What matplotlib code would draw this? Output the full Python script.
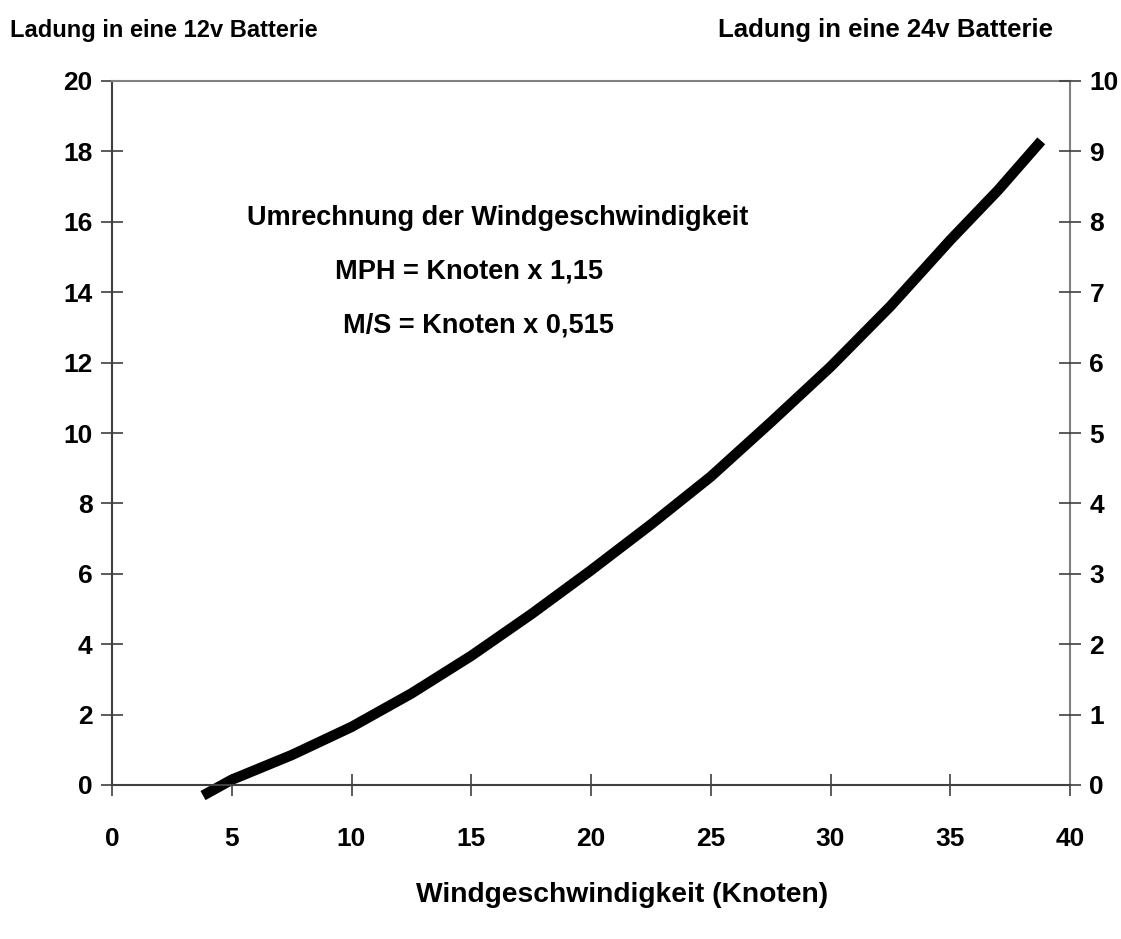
import matplotlib.pyplot as plt

# Readings from the chart: knots vs charge (12v scale)
knots = [3.8, 5, 7.5, 10, 12.5, 15, 17.5, 20, 22.5, 25, 27.5, 30, 32.5, 35, 37, 38.8]
charge_12v = [-0.3, 0.15, 0.85, 1.65, 2.6, 3.67, 4.85, 6.1, 7.4, 8.76, 10.3, 11.88, 13.6, 15.48, 16.9, 18.3]

x_ticks = [0, 5, 10, 15, 20, 25, 30, 35, 40]
left_ticks = [0, 2, 4, 6, 8, 10, 12, 14, 16, 18, 20]
right_ticks = [0, 1, 2, 3, 4, 5, 6, 7, 8, 9, 10]

plt.rcParams['font.family'] = ['Liberation Sans', 'DejaVu Sans']
plt.rcParams['font.weight'] = 'bold'

fig = plt.figure(figsize=(11.21, 9.39), dpi=100)
ax = fig.add_axes([112 / 1121, 1 - 785 / 939, (1070 - 112) / 1121, (785 - 81) / 939])

ax.plot(knots, charge_12v, color='black', lw=7.5, solid_capstyle='butt',
        solid_joinstyle='round', clip_on=False)

ax.set_xlim(0, 40)
ax.set_ylim(0, 20)
ax.set_xticks(x_ticks)
ax.set_yticks(left_ticks)
ax.tick_params(direction='inout', length=16, width=1.2, color='#404040',
               labelsize=19, pad=6)
ax.tick_params(axis='x', pad=22)
for side in ['left', 'bottom']:
    ax.spines[side].set_color('#404040')
    ax.spines[side].set_linewidth(1.5)
for side in ['top', 'right']:
    ax.spines[side].set_color('#808080')
    ax.spines[side].set_linewidth(1.5)

ax2 = ax.twinx()
ax2.set_ylim(0, 10)
ax2.set_yticks(right_ticks)
ax2.tick_params(direction='inout', length=16, width=1.2, color='#404040',
                labelsize=19, pad=6)
for s in ax2.spines.values():
    s.set_visible(False)

ax.text(16.1, 16.1, 'Umrechnung der Windgeschwindigkeit', fontsize=19.5,
        fontweight='bold', ha='center', va='center')
ax.text(14.9, 14.6, 'MPH = Knoten x 1,15', fontsize=19.5,
        fontweight='bold', ha='center', va='center')
ax.text(15.3, 13.04, 'M/S = Knoten x 0,515', fontsize=19.5,
        fontweight='bold', ha='center', va='center')

fig.text(10 / 1121, 1 - 30 / 939, 'Ladung in eine 12v Batterie', fontsize=17,
         fontweight='bold', ha='left', va='center')
fig.text(1053 / 1121, 1 - 30 / 939, 'Ladung in eine 24v Batterie', fontsize=18.5,
         fontweight='bold', ha='right', va='center')
fig.text(622 / 1121, 1 - 895 / 939, 'Windgeschwindigkeit (Knoten)', fontsize=20.3,
         fontweight='bold', ha='center', va='center')

fig.savefig('out.png', dpi=100, facecolor='white')
